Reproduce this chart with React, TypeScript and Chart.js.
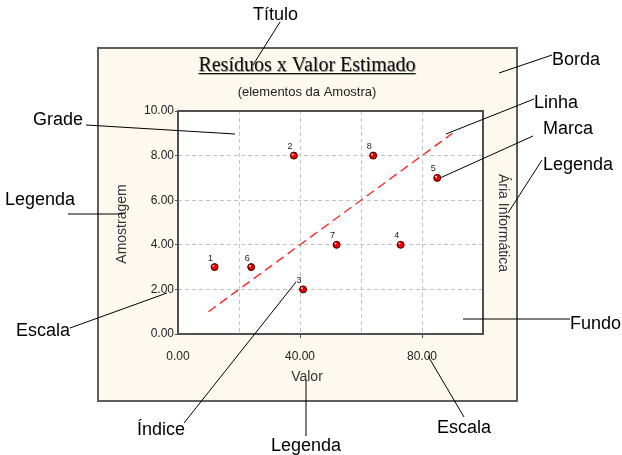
import React, { useEffect, useRef } from 'react';
import { Chart, registerables } from 'chart.js';
Chart.register(...registerables);

// ---- data ----
const pointLabels = ['1', '2', '3', '4', '5', '6', '7', '8'];
const valorValues = [12, 38, 41, 73, 85, 24, 52, 64];
const amostragemValues = [3, 8, 2, 4, 7, 3, 4, 8];
const trendX = [10, 90];
const trendY = [1, 9];
const xLabeledTicks = [0, 40, 80];

const titleText = 'Resíduos x Valor Estimado';
const subtitleText = '(elementos da Amostra)';
const xTitle = 'Valor';
const yTitle = 'Amostragem';
const rightTitle = 'Ária Informática';

type Callout = { text: string; tx: number; ty: number; line: [number, number, number, number] };
const callouts: Callout[] = [
  { text: 'Título', tx: 253, ty: 15, line: [280, 22, 253, 65] },
  { text: 'Borda', tx: 552, ty: 60, line: [552, 55, 499, 73] },
  { text: 'Linha', tx: 534, ty: 103, line: [534, 99, 446, 134] },
  { text: 'Marca', tx: 543, ty: 129, line: [533, 136, 440, 178] },
  { text: 'Legenda', tx: 543, ty: 165, line: [542, 160, 508, 213] },
  { text: 'Fundo', tx: 570, ty: 324, line: [463, 319, 570, 319] },
  { text: 'Grade', tx: 33, ty: 120, line: [86, 125, 235, 134] },
  { text: 'Legenda', tx: 5, ty: 200, line: [68, 214, 123, 214] },
  { text: 'Escala', tx: 16, ty: 331, line: [70, 328, 167, 293] },
  { text: 'Índice', tx: 137, ty: 430, line: [184, 423, 296, 282] },
  { text: 'Legenda', tx: 271, ty: 446, line: [306, 380, 306, 436] },
  { text: 'Escala', tx: 437, ty: 428, line: [428, 356, 464, 417] },
];

const SANS = '"Liberation Sans", Arial, sans-serif';
const SERIF = '"Liberation Serif", "Times New Roman", serif';

const decorPlugin = {
  id: 'decor',
  beforeDraw(chart: any) {
    const ctx = chart.ctx;
    const a = chart.chartArea;
    ctx.save();
    ctx.fillStyle = '#ffffff';
    ctx.fillRect(0, 0, chart.width, chart.height);
    // outer frame
    ctx.fillStyle = '#fdf9ee';
    ctx.fillRect(98, 48, 419, 353);
    ctx.strokeStyle = '#5e5e5e';
    ctx.lineWidth = 2;
    ctx.strokeRect(98, 48, 419, 353);
    // plot background
    ctx.fillStyle = '#ffffff';
    ctx.fillRect(a.left, a.top, a.right - a.left, a.bottom - a.top);
    ctx.restore();
  },
  afterDatasetsDraw(chart: any) {
    const ctx = chart.ctx;
    const a = chart.chartArea;
    ctx.save();
    // plot border
    ctx.strokeStyle = '#505050';
    ctx.lineWidth = 2;
    ctx.strokeRect(a.left, a.top, a.right - a.left, a.bottom - a.top);

    // point highlights and labels
    const meta = chart.getDatasetMeta(0);
    meta.data.forEach((el: any, i: number) => {
      ctx.fillStyle = 'rgba(255,255,255,0.85)';
      ctx.beginPath();
      ctx.arc(el.x - 1.2, el.y - 1.2, 1, 0, Math.PI * 2);
      ctx.fill();
      ctx.fillStyle = '#222';
      ctx.font = '9px ' + SANS;
      ctx.textAlign = 'center';
      ctx.textBaseline = 'middle';
      ctx.fillText(pointLabels[i], el.x - 4, el.y - 9);
    });

    // title
    const cx = 307;
    ctx.font = '20px ' + SERIF;
    ctx.textAlign = 'center';
    ctx.textBaseline = 'alphabetic';
    ctx.fillStyle = '#9a9a9a';
    ctx.fillText(titleText, cx + 0.8, 71.8);
    ctx.fillStyle = '#111';
    ctx.fillText(titleText, cx, 71);
    const tw = ctx.measureText(titleText).width;
    ctx.strokeStyle = '#111';
    ctx.lineWidth = 1;
    ctx.beginPath();
    ctx.moveTo(cx - tw / 2, 73.5);
    ctx.lineTo(cx + tw / 2, 73.5);
    ctx.stroke();
    ctx.strokeStyle = '#aaaaaa';
    ctx.beginPath();
    ctx.moveTo(cx - tw / 2 + 1, 74.5);
    ctx.lineTo(cx + tw / 2 + 1, 74.5);
    ctx.stroke();

    // subtitle
    ctx.fillStyle = '#222';
    ctx.font = '13px ' + SANS;
    ctx.textBaseline = 'middle';
    ctx.fillText(subtitleText, cx, 92);

    // axis titles
    ctx.font = '14px ' + SANS;
    ctx.fillStyle = '#333';
    ctx.fillText(xTitle, 307, 377);
    ctx.save();
    ctx.translate(122, 224);
    ctx.rotate(-Math.PI / 2);
    ctx.fillText(yTitle, 0, 0);
    ctx.restore();
    ctx.save();
    ctx.translate(503, 223);
    ctx.rotate(Math.PI / 2);
    ctx.fillText(rightTitle, 0, 0);
    ctx.restore();

    // callouts
    ctx.strokeStyle = '#000';
    ctx.lineWidth = 1;
    ctx.fillStyle = '#000';
    ctx.font = '18px ' + SANS;
    ctx.textAlign = 'left';
    ctx.textBaseline = 'middle';
    callouts.forEach((c) => {
      ctx.fillText(c.text, c.tx, c.ty);
      ctx.beginPath();
      ctx.moveTo(c.line[0], c.line[1]);
      ctx.lineTo(c.line[2], c.line[3]);
      ctx.stroke();
    });
    ctx.restore();
  },
};

export default function App() {
  const ref = useRef<HTMLCanvasElement | null>(null);
  useEffect(() => {
    document.body.style.margin = '0';
    const canvas = ref.current!;
    const chart = new Chart(canvas, {
      type: 'scatter',
      data: {
        datasets: [
          {
            label: 'Amostragem',
            data: valorValues.map((v, i) => ({ x: v, y: amostragemValues[i] })),
            backgroundColor: '#ee0000',
            borderColor: '#3a0000',
            borderWidth: 1,
            pointRadius: 3.5,
            pointHoverRadius: 3.5,
          },
          {
            type: 'line',
            label: 'Linha',
            data: trendX.map((v, i) => ({ x: v, y: trendY[i] })),
            borderColor: '#ff2a2a',
            borderWidth: 1.4,
            borderDash: [9, 5],
            pointRadius: 0,
            showLine: true,
            fill: false,
          } as any,
        ],
      },
      options: {
        responsive: false,
        animation: false,
        devicePixelRatio: 1,
        events: [],
        layout: { padding: { left: 0, top: 111, right: 139, bottom: 0 } },
        plugins: { legend: { display: false }, title: { display: false }, tooltip: { enabled: false } },
        scales: {
          x: {
            type: 'linear',
            min: 0,
            max: 100,
            afterFit: (s: any) => { s.height = 121; },
            ticks: {
              stepSize: 20,
              padding: 11,
              color: '#222',
              font: { family: SANS, size: 12 },
              maxRotation: 0,
              autoSkip: false,
              callback: (v: any) => (xLabeledTicks.includes(Number(v)) ? Number(v).toFixed(2) : ''),
            },
            grid: {
              color: '#c4c4c4',
              lineWidth: 1,
              tickLength: 4,
              tickColor: (c: any) => (c.tick && xLabeledTicks.includes(c.tick.value) && c.tick.value > 0 ? '#505050' : 'rgba(0,0,0,0)'),
            },
            border: { display: false, dash: [4, 3] },
          },
          y: {
            type: 'linear',
            min: 0,
            max: 10,
            afterFit: (s: any) => { s.width = 178; },
            ticks: {
              stepSize: 2,
              padding: 1,
              color: '#222',
              font: { family: SANS, size: 12 },
              callback: (v: any) => Number(v).toFixed(2),
            },
            grid: {
              color: '#c4c4c4',
              lineWidth: 1,
              tickLength: 3,
              tickColor: '#505050',
            },
            border: { display: false, dash: [4, 3] },
          },
        },
      },
      plugins: [decorPlugin],
    });
    return () => chart.destroy();
  }, []);
  return <canvas ref={ref} width={622} height={455} style={{ display: 'block' }} />;
}
